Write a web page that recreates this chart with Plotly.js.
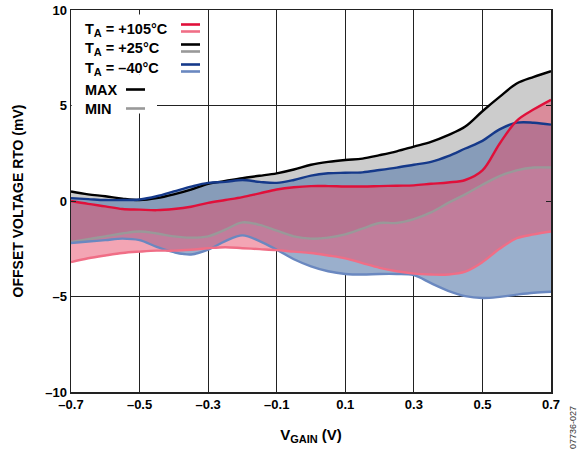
<!DOCTYPE html>
<html>
<head>
<meta charset="utf-8">
<script src="https://cdn.plot.ly/plotly-3.0.1.min.js"></script>
<style>html,body{margin:0;padding:0;background:#fff;}#chart{width:583px;height:454px;}</style>
</head>
<body>
<div id="chart"></div>
<script>
// V_GAIN (V)
var vgain = [-0.7,-0.65,-0.6,-0.55,-0.5,-0.45,-0.4,-0.35,-0.3,-0.25,-0.2,-0.15,-0.1,-0.05,0,0.05,0.1,0.15,0.2,0.25,0.3,0.35,0.4,0.45,0.5,0.55,0.6,0.65,0.7];
// TA = +25°C
var max25 = [0.5,0.35,0.25,0.12,0.05,0.15,0.35,0.6,0.9,1.05,1.2,1.32,1.45,1.65,1.9,2.05,2.15,2.22,2.4,2.6,2.85,3.1,3.45,3.9,4.7,5.45,6.15,6.5,6.8];
var min25 = [-2.15,-2.0,-1.85,-1.7,-1.6,-1.7,-1.85,-1.92,-1.85,-1.5,-1.12,-1.25,-1.55,-1.85,-1.97,-1.92,-1.75,-1.45,-1.15,-1.15,-0.95,-0.6,-0.1,0.35,0.85,1.3,1.6,1.75,1.75];
// TA = -40°C
var maxM40 = [0.15,0.1,0.05,0.05,0.08,0.25,0.5,0.75,0.95,1.0,1.1,1.0,0.95,1.1,1.33,1.45,1.48,1.5,1.62,1.75,1.9,2.05,2.35,2.75,3.15,3.75,4.1,4.1,4.0];
var minM40 = [-2.2,-2.12,-2.05,-1.97,-2.05,-2.4,-2.68,-2.8,-2.55,-2.1,-1.8,-2.1,-2.55,-3.05,-3.42,-3.68,-3.82,-3.85,-3.82,-3.82,-3.88,-4.3,-4.7,-4.98,-5.08,-5.02,-4.9,-4.8,-4.75];
// TA = +105°C
var max105 = [0.0,-0.15,-0.28,-0.42,-0.45,-0.48,-0.42,-0.3,-0.1,0.05,0.2,0.4,0.6,0.72,0.78,0.78,0.76,0.76,0.78,0.8,0.82,0.9,0.97,1.1,1.6,3.0,4.2,4.8,5.3];
var min105 = [-3.2,-3.0,-2.85,-2.72,-2.65,-2.6,-2.6,-2.55,-2.47,-2.42,-2.47,-2.52,-2.57,-2.65,-2.72,-2.85,-3.0,-3.25,-3.5,-3.68,-3.8,-3.85,-3.85,-3.7,-3.2,-2.5,-1.95,-1.75,-1.6];

var xTickVals = [-0.7,-0.5,-0.3,-0.1,0.1,0.3,0.5,0.7];
var xTickText = ['–0.7','–0.5','–0.3','–0.1','0.1','0.3','0.5','0.7'];
var yTickVals = [-10,-5,0,5,10];
var yTickText = ['–10','–5','0','5','10'];

var FONT = 'Liberation Sans, Arial, Helvetica, sans-serif';
var C = {
  r1:'#e0103a', r2:'#f06e86',
  k1:'#000000', k2:'#999999',
  b1:'#15398a', b2:'#6a88c0'
};

var upperEnv = vgain.map(function(_,i){return Math.max(max25[i],maxM40[i],max105[i]);});
var lowerEnv = vgain.map(function(_,i){return Math.min(min25[i],minM40[i],min105[i]);});

function band(lo, hi, color){
  return [
    {x:vgain,y:lo,type:'scatter',mode:'lines',line:{width:0,shape:'spline'},hoverinfo:'skip',showlegend:false},
    {x:vgain,y:hi,type:'scatter',mode:'lines',line:{width:0,shape:'spline'},fill:'tonexty',fillcolor:color,hoverinfo:'skip',showlegend:false}
  ];
}
function line(y,color){
  return {x:vgain,y:y,type:'scatter',mode:'lines',line:{width:2.4,color:color,shape:'spline'},hoverinfo:'skip',showlegend:false};
}

var data = [].concat(
  band(lowerEnv, upperEnv, 'rgb(255,255,255)'),
  band(min25, max25, 'rgb(204,204,204)'),
  band(minM40, maxM40, 'rgba(95,128,174,0.63)'),
  band(min105, max105, 'rgba(232,75,105,0.5)'),
  [line(min25,C.k2), line(minM40,C.b2), line(min105,C.r2), line(max25,C.k1), line(maxM40,C.b1), line(max105,C.r1)]
);

function px2x(p){return (p-71)/480*1.4-0.7;}
function px2y(p){return (201.5-p)/19.1;}

var shapes = [
  {type:'rect',layer:'above',xref:'x',yref:'y',x0:-0.698,x1:px2x(205),y0:px2y(75),y1:px2y(15),fillcolor:'#fff',line:{width:0}},
  {type:'rect',layer:'above',xref:'x',yref:'y',x0:-0.698,x1:px2x(157),y0:px2y(114),y1:px2y(75),fillcolor:'#fff',line:{width:0}}
];
function sw(x0,x1,y,color){
  shapes.push({type:'line',layer:'above',xref:'x',yref:'y',x0:px2x(x0),x1:px2x(x1),y0:px2y(y),y1:px2y(y),line:{color:color,width:2.6}});
}
sw(181,200,25,C.r1); sw(181,200,32,C.r2);
sw(181,200,45,C.k1); sw(181,200,52,C.k2);
sw(181,200,65,C.b1); sw(181,200,72,C.b2);
sw(126,145,90,C.k1); sw(126,145,109,C.k2);

var SUBA = 'T<sub><span style="font-size:11px">A</span></sub>';
var legendItems = [
  {t:SUBA+' = +105°C', y:30},
  {t:SUBA+' = +25°C', y:49},
  {t:SUBA+' = –40°C', y:69},
  {t:'MAX', y:90},
  {t:'MIN', y:109}
];
var annotations = legendItems.map(function(it){
  return {xref:'x',yref:'y',x:px2x(83),y:px2y(it.y),text:it.t,showarrow:false,xanchor:'left',yanchor:'middle',
    font:{family:FONT,size:14.5,color:'#000',weight:'bold'}};
});
annotations.push({xref:'paper',yref:'paper',x:(573-71)/480,y:(392-428)/382,text:'07736-027',textangle:-90,showarrow:false,xanchor:'center',yanchor:'middle',
  font:{family:FONT,size:9,color:'#333'}});

var axisCommon = {
  showline:true, mirror:'ticks', linecolor:'#222', linewidth:1.5,
  showgrid:true, gridcolor:'#222', gridwidth:1,
  zeroline:false, ticks:'inside', ticklen:5, tickcolor:'#222', tickwidth:1,
  tickfont:{family:FONT,size:13,color:'#000',weight:'bold'}
};

var layout = {
  width:583, height:454,
  margin:{l:71,r:32,t:10,b:62},
  paper_bgcolor:'#fff', plot_bgcolor:'#fff',
  showlegend:false,
  xaxis:Object.assign({}, axisCommon, {
    range:[-0.7,0.7], tickmode:'array', tickvals:xTickVals, ticktext:xTickText,
    title:{text:'V<sub><span style="font-size:11px">GAIN</span></sub> (V)', font:{family:FONT,size:15,color:'#000',weight:'bold'}, standoff:18}
  }),
  yaxis:Object.assign({}, axisCommon, {
    range:[-10,10], tickmode:'array', tickvals:yTickVals, ticktext:yTickText,
    title:{text:'OFFSET VOLTAGE RTO (mV)', font:{family:FONT,size:14,color:'#000',weight:'bold'}, standoff:18}
  }),
  shapes:shapes,
  annotations:annotations
};

Plotly.newPlot('chart', data, layout, {displayModeBar:false, staticPlot:true});
</script>
</body>
</html>
